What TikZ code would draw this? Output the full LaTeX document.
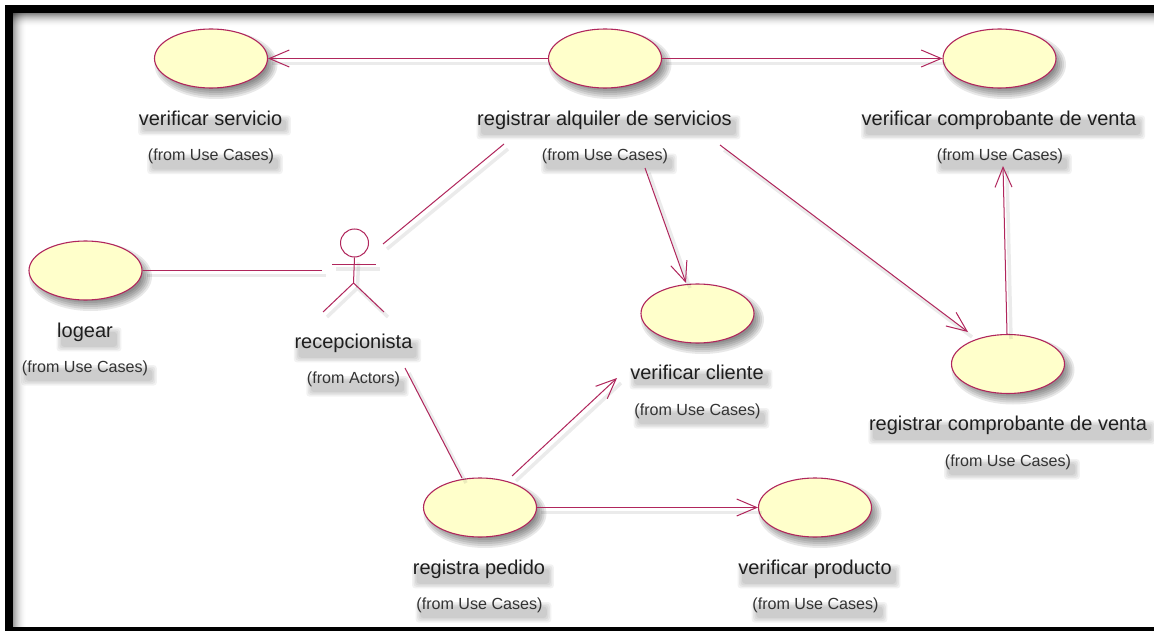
\documentclass[tikz,border=0pt]{standalone}
\usepackage{fontspec}
\setmainfont{Liberation Sans}
\usetikzlibrary{arrows.meta,shapes.geometric,backgrounds}
\definecolor{umlline}{HTML}{B0265C}
\definecolor{umlfill}{HTML}{FFFFCB}
\definecolor{umltext}{HTML}{1E1E1E}
\definecolor{umlsub}{HTML}{333333}
\tikzset{
  usecase/.style={ellipse,draw=umlline,fill=umlfill,line width=1.1pt,inner sep=0pt,
    minimum width=113pt,minimum height=59pt},
  mainlab/.style={inner sep=0pt,anchor=base,text=umltext,font=\fontsize{20}{22}\selectfont},
  sublab/.style={inner sep=0pt,anchor=base,text=umlsub,font=\fontsize{16.1}{18}\selectfont},
  softshade/.style={fill=black,opacity=0.05,rounded corners=3pt},
  linkshade/.style={draw=black,opacity=0.08,line width=3.5pt,
    transform canvas={shift={(4pt,-5pt)}}},
  assoc/.style={draw=umlline,line width=1pt},
  dep/.style={assoc,-{Straight Barb[length=20pt,width=17pt,line width=1pt]}},
  actorline/.style={draw=umlline,line width=1pt}
}
% soft shadow behind a use case
\newcommand{\ellshade}[2]{%
  \foreach \d in {-5,-3,-1,1,3,5}{%
    \fill[black,opacity=0.09] (#1+5,#2+6) ellipse ({56.5+\d} and {29.5+\d});}}
% soft shadow behind a label
\newcommand{\labshade}[1]{%
  \begin{pgfonlayer}{background}
  \foreach \d in {0,1.5,3,4.5}{%
    \fill[softshade] ([shift={(4-\d,5+\d)}]#1.south west) rectangle ([shift={(4+\d,9-\d)}]#1.north east);}
  \end{pgfonlayer}}
\newcommand{\mainlabel}[4]{\node[mainlab] (#1) at (#2,#3+6.5) {#4}; \labshade{#1}}
\newcommand{\sublabel}[4]{\node[sublab] (#1) at (#2,#3+5.5) {#4}; \labshade{#1}}
\begin{document}
\begin{tikzpicture}[x=1pt,y=-1pt]
\useasboundingbox (0,0) rectangle (1154,631);
\begin{pgfonlayer}{background}
\fill[white] (0,0) rectangle (1154,631);
% inner shadow of the frame
\foreach \i in {0,...,13}{%
  \pgfmathsetmacro{\sh}{48*(1-\i/14)*(1-\i/14)}
  \fill[black,opacity=\sh/100*0.8] (13+\i,13) rectangle (14+\i,627);
  \fill[black,opacity=\sh/100*1.0] (13,13+\i) rectangle (1154,14+\i);
}
\end{pgfonlayer}
\fill[black] (5,5.5) rectangle (1154,13.3);
\fill[black] (5,5.5) rectangle (13.3,631);
\fill[black] (5,627) rectangle (1154,631);

% use cases
\ellshade{211}{58.5}\ellshade{605}{58.5}\ellshade{999.5}{58.5}\ellshade{85.5}{270.5}
\ellshade{697.5}{313.5}\ellshade{1008}{364}\ellshade{480}{507.5}\ellshade{815}{507.5}
\node[usecase] (vs) at (211,58.5) {};
\node[usecase] (reg) at (605,58.5) {};
\node[usecase] (vcv) at (999.5,58.5) {};
\node[usecase] (log) at (85.5,270.5) {};
\node[usecase] (vcl) at (697.5,313.5) {};
\node[usecase] (rcv) at (1008,364) {};
\node[usecase] (rp) at (480,507.5) {};
\node[usecase] (vp) at (815,507.5) {};

% labels
\mainlabel{lvs}{210.5}{119}{verificar servicio}
\sublabel{svs}{211}{155.5}{(from Use Cases)}
\mainlabel{lreg}{604.5}{119}{registrar alquiler de servicios}
\sublabel{sreg}{605}{155.5}{(from Use Cases)}
\mainlabel{lvcv}{999}{119}{verificar comprobante de venta}
\sublabel{svcv}{1000}{155.5}{(from Use Cases)}
\mainlabel{llog}{85}{331}{logear}
\sublabel{slog}{85}{367}{(from Use Cases)}
\mainlabel{lact}{353.5}{342}{recepcionista}
\sublabel{sact}{353.5}{378}{(from Actors)}
\mainlabel{lvcl}{697}{373}{verificar cliente}
\sublabel{svcl}{697.5}{410}{(from Use Cases)}
\mainlabel{lrcv}{1008}{424}{registrar comprobante de venta}
\sublabel{srcv}{1008}{461}{(from Use Cases)}
\mainlabel{lrp}{479}{568}{registra pedido}
\sublabel{srp}{479.5}{604}{(from Use Cases)}
\mainlabel{lvp}{815}{568}{verificar producto}
\sublabel{svp}{815.5}{604}{(from Use Cases)}

% actor
\node[circle,draw=umlline,line width=1pt,inner sep=0pt,minimum size=28pt] (head) at (354.5,243) {};
\coordinate (hip) at (353.5,283);
\draw[linkshade] (head.south) -- (hip);
\draw[linkshade] (332,264) -- (376,264);
\draw[linkshade] (323,312) -- (hip) -- (384,312);
\draw[actorline] (head.south) -- (hip);
\draw[actorline] (332,264) -- (376,264);
\draw[actorline] (323,312) -- (hip) -- (384,312);

% connector free ends
\coordinate (actW) at (322,270.5);
\coordinate (actNE) at (383,244);
\coordinate (actSE) at (405,368);
\coordinate (regSW) at (504,144);
\coordinate (regSa) at (645,168);
\coordinate (regSb) at (720,145);
\coordinate (vcvS) at (1003,166);
\coordinate (vclW) at (617,378);
\coordinate (rpN) at (462,478);
\coordinate (rpNE) at (512,476);
\coordinate (rcvN) at (1007,334);
\coordinate (rcvNW) at (968,332);
\coordinate (vclN) at (686,283);

% connector shadows
\draw[linkshade] (reg) -- (vs);
\draw[linkshade] (reg) -- (vcv);
\draw[linkshade] (regSa) -- (vclN);
\draw[linkshade] (regSb) -- (rcvNW);
\draw[linkshade] (rcvN) -- (vcvS);
\draw[linkshade] (rpNE) -- (vclW);
\draw[linkshade] (rp) -- (vp);
\draw[linkshade] (log) -- (actW);
\draw[linkshade] (actNE) -- (regSW);
\draw[linkshade] (actSE) -- (rpN);

% connectors
\draw[dep] (reg) -- (vs);
\draw[dep] (reg) -- (vcv);
\draw[dep] (regSa) -- (vclN);
\draw[dep] (regSb) -- (rcvNW);
\draw[dep] (rcvN) -- (vcvS);
\draw[dep] (rpNE) -- (vclW);
\draw[dep] (rp) -- (vp);
\draw[assoc] (log) -- (actW);
\draw[assoc] (actNE) -- (regSW);
\draw[assoc] (actSE) -- (rpN);
\end{tikzpicture}
\end{document}
